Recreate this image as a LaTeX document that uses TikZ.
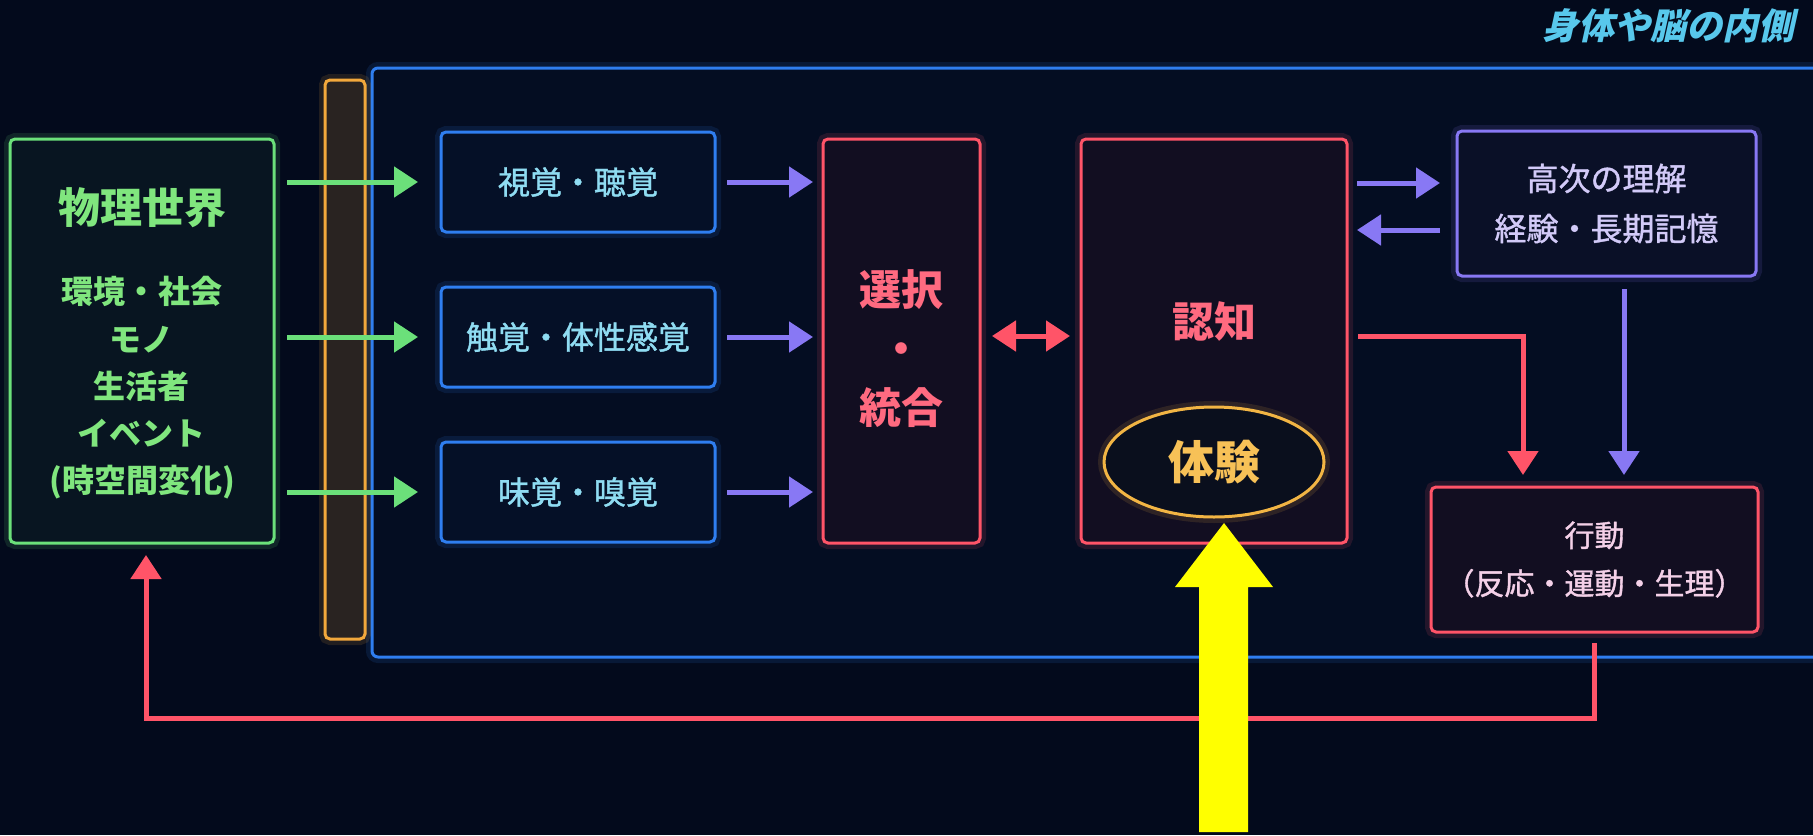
\documentclass[tikz,border=0pt]{standalone}
\usepackage{fontspec}
\newfontfamily\jp{Noto Sans CJK JP}
\newfontfamily\jpm{Noto Sans CJK JP}[FakeBold=1.2]
\newfontfamily\jpit{Noto Sans CJK JP}[FakeSlant=0.22]
\usetikzlibrary{arrows.meta,shapes.geometric}
\definecolor{bg}{HTML}{030A1C}
\definecolor{cgreen}{HTML}{6BE07A}
\definecolor{tgreen}{HTML}{80E67E}
\definecolor{corange}{HTML}{F2A83C}
\definecolor{cblue}{HTML}{2F7EF0}
\definecolor{tcyan}{HTML}{8FDCF2}
\definecolor{cpurple}{HTML}{8878F4}
\definecolor{cred}{HTML}{FF5468}
\definecolor{tred}{HTML}{FF6A80}
\definecolor{cgold}{HTML}{F2B544}
\definecolor{tgold}{HTML}{F7C157}
\definecolor{tlav}{HTML}{D2CAF8}
\definecolor{tpink}{HTML}{F4D0E8}
\definecolor{ctitle}{HTML}{58C8EC}
\definecolor{cyellow}{HTML}{FFFF00}
\tikzset{
  glow/.style={preaction={draw=#1,line width=6pt,opacity=0.13}},
  box/.style={draw=#1,glow=#1,line width=1.5pt,rounded corners=2.5pt,inner sep=0pt,outer sep=0pt},
  conn/.style={line width=2.5pt,-{Triangle[width=15pt,length=12pt]}},
  garrow/.style={conn,draw=cgreen},
  parrow/.style={conn,draw=cpurple},
  rarrow/.style={conn,draw=cred},
  sense/.style={box=cblue,fill=bg!95!cblue,text=tcyan,minimum width=137pt,minimum height=50pt,font=\jpm\fontsize{16pt}{20pt}\selectfont},
  redbox/.style={box=cred,fill=bg!94!cred},
}
\begin{document}
\begin{tikzpicture}[x=0.5pt,y=-0.5pt,font=\jp]
\fill[bg] (0,0) rectangle (1813,835);
\useasboundingbox (0,0) rectangle (1813,835);
% inside-body frame
\node[box=cblue,fill=bg!97!cblue,rounded corners=3pt,minimum width=734pt,minimum height=294.5pt] (body) at (1106,362.5) {};
\node[anchor=east,text=ctitle,font=\jpit\bfseries\fontsize{18pt}{22pt}\selectfont] (title) at (1802,26) {身体や脳の内側};
% gate bar
\node[box=corange,fill=bg!84!corange,minimum width=20pt,minimum height=279.5pt] (gate) at (345,359.5) {};
% physical world
\node[box=cgreen,fill=bg!95!cgreen,minimum width=132pt,minimum height=202pt] (world) at (142,341) {};
\node[text=tgreen,font=\jp\bfseries\fontsize{21pt}{25pt}\selectfont] (worldt) at (142,208) {物理世界};
\node[text=tgreen,align=center,font=\jp\bfseries\fontsize{16pt}{23.6pt}\selectfont] (worldl) at (142,388) {環境・社会\\モノ\\生活者\\イベント\\(時空間変化)};
% senses
\node[sense] (s1) at (578,182) {視覚・聴覚};
\node[sense] (s2) at (578,337) {触覚・体性感覚};
\node[sense] (s3) at (578,492) {味覚・嗅覚};
% selection / integration
\node[redbox,minimum width=78.5pt,minimum height=202pt] (sel) at (901.5,341) {};
\node[text=tred,align=center,font=\jp\bfseries\fontsize{21pt}{29.5pt}\selectfont] (selt) at (901,349) {選択\\・\\統合};
% cognition
\node[redbox,minimum width=133pt,minimum height=202pt] (cog) at (1214,341) {};
\node[text=tred,font=\jp\bfseries\fontsize{21pt}{25pt}\selectfont] (cogt) at (1214,321) {認知};
\node[ellipse,draw=cgold,glow=cgold,line width=1.5pt,fill=bg!97!cgold,minimum width=110pt,minimum height=55pt,inner sep=0pt,text=tgold,font=\jp\bfseries\fontsize{23pt}{27pt}\selectfont] (exp) at (1214,462) {体験};
% higher understanding
\node[box=cpurple,fill=bg!95!cpurple,text=tlav,align=center,minimum width=149.5pt,minimum height=72.5pt,font=\jpm\fontsize{16pt}{25pt}\selectfont] (high) at (1606.5,203.5) {高次の理解\\経験・長期記憶};
% action
\node[redbox,text=tpink,align=center,minimum width=163.5pt,minimum height=72.5pt,font=\jpm\fontsize{15pt}{24pt}\selectfont] (act) at (1594.5,559.5) {行動\\（反応・運動・生理）};
% coordinates
\coordinate (h1) at (1400,183);
\coordinate (h2) at (1400,230);
\coordinate (r1) at (1523,336);
\coordinate (p1) at (1624,300);
\coordinate (fb) at (146,718);
% green arrows
\foreach \s in {s1,s2,s3}
  \draw[garrow,shorten <=6.5pt,shorten >=11.5pt] (world.east |- \s.west) -- (\s.west);
% purple arrows
\foreach \s in {s1,s2,s3}
  \draw[parrow,shorten <=6pt,shorten >=5pt] (\s.east) -- (sel.west |- \s.east);
% double arrow
\draw[conn,draw=cred,{Triangle[width=15pt,length=12pt]}-{Triangle[width=15pt,length=12pt]},shorten <=6pt,shorten >=5.5pt] (sel.east |- r1) -- (cog.west |- r1);
% cognition <-> high
\draw[parrow,shorten <=5pt,shorten >=8.5pt] (cog.east |- h1) -- (high.west |- h1);
\draw[parrow,shorten <=8.5pt,shorten >=5pt] (high.west |- h2) -- (cog.east |- h2);
% cognition -> action
\draw[rarrow,shorten <=5.5pt,shorten >=6pt,line join=miter] (cog.east |- r1) -- (r1) -- (r1 |- act.north);
% high -> action
\draw[parrow,shorten <=6.5pt,shorten >=6pt] (p1 |- high.south) -- (p1 |- act.north);
% feedback
\draw[rarrow,shorten <=5.5pt,shorten >=6pt,line join=miter] (act.south) -- (act.south |- fb) -- (fb) -- (fb |- world.south);
% yellow pointer
\fill[cyellow] (1224,523) -- (1273,587) -- (1248,587) -- (1248,832) -- (1199,832) -- (1199,587) -- (1175,587) -- cycle;
\end{tikzpicture}
\end{document}
